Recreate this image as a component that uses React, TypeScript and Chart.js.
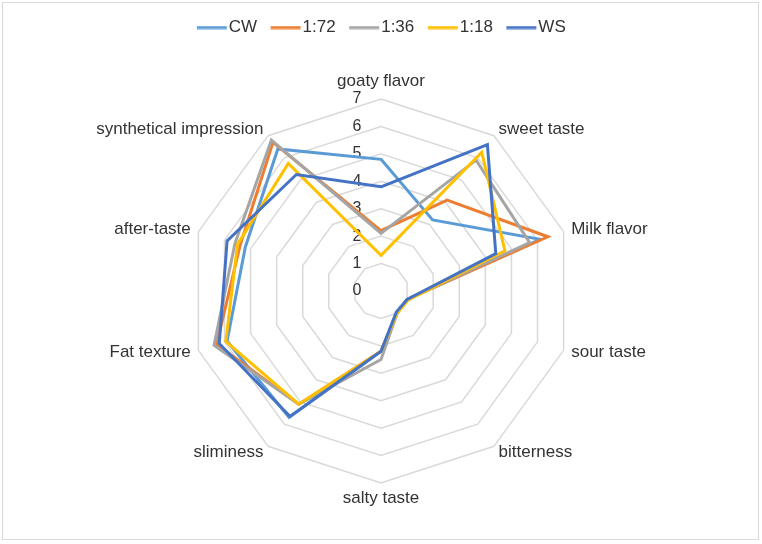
import React, { useEffect, useRef } from 'react';
import { Chart, registerables } from 'chart.js';

Chart.register(...registerables);

const categories = [
  'goaty flavor',
  'sweet taste',
  'Milk flavor',
  'sour taste',
  'bitterness',
  'salty taste',
  'sliminess',
  'Fat texture',
  'after-taste',
  'synthetical impression',
];

const cw = [4.8, 3.2, 6.1, 1.0, 1.0, 2.2, 5.7, 5.9, 5.2, 6.4];
const r72 = [2.2, 4.1, 6.4, 1.0, 1.0, 2.2, 5.1, 6.3, 5.4, 6.7];
const r36 = [2.1, 5.9, 5.7, 1.0, 1.0, 2.5, 5.1, 6.4, 5.6, 6.8];
const r18 = [1.3, 6.25, 4.75, 1.05, 1.0, 2.2, 5.1, 5.95, 5.5, 5.75];
const ws = [3.8, 6.6, 4.4, 1.0, 0.95, 2.2, 5.65, 6.2, 5.9, 5.25];

const tickValues = [0, 1, 2, 3, 4, 5, 6, 7];

const FONT = '"Liberation Sans", Arial, sans-serif';
const TEXT = '#333333';

// legend marker: a 30px line that sits right up against its text
function lineMarker(color: string) {
  const c = document.createElement('canvas');
  c.width = 41;
  c.height = 4;
  const g = c.getContext('2d');
  if (g) {
    g.fillStyle = color;
    g.fillRect(9, 0.5, 30, 3);
  }
  return c;
}

// Excel puts the value labels left of the vertical axis, drawn under the lines
const tickLabelPlugin = {
  id: 'tickLabels',
  beforeDatasetsDraw(chart: any) {
    const scale = chart.scales.r;
    const ctx = chart.ctx;
    ctx.save();
    ctx.font = `16px ${FONT}`;
    ctx.fillStyle = TEXT;
    ctx.textAlign = 'center';
    ctx.textBaseline = 'middle';
    tickValues.forEach(v => {
      const d = scale.getDistanceFromCenterForValue(v);
      ctx.fillText(String(v), scale.xCenter - 24, scale.yCenter - d);
    });
    ctx.restore();
  },
};

// category labels around the web, placed like Excel does
const categoryLabelPlugin = {
  id: 'categoryLabels',
  afterDatasetsDraw(chart: any) {
    const scale = chart.scales.r;
    const ctx = chart.ctx;
    ctx.save();
    ctx.font = `17px ${FONT}`;
    ctx.fillStyle = TEXT;
    ctx.textBaseline = 'middle';
    categories.forEach((label, i) => {
      const side = scale.getPointPosition(i, scale.drawingArea + 8);
      const dx = side.x - scale.xCenter;
      if (Math.abs(dx) < 1) {
        const above = side.y < scale.yCenter;
        const p = scale.getPointPosition(i, scale.drawingArea + (above ? 18 : 15));
        ctx.textAlign = 'center';
        ctx.fillText(label, p.x, p.y);
      } else {
        ctx.textAlign = dx > 0 ? 'left' : 'right';
        ctx.fillText(label, side.x, side.y);
      }
    });
    ctx.restore();
  },
};

// extra room between legend and plot
const legendGap = {
  id: 'legendGap',
  beforeInit(chart: any) {
    const legend = chart.legend;
    if (!legend) return;
    const origFit = legend.fit;
    legend.fit = function () {
      origFit.call(this);
      this.height += 53;
    };
  },
};

const RadarChart: React.FC = () => {
  const chartRef = useRef<HTMLCanvasElement>(null);
  const chartInstance = useRef<Chart | null>(null);

  useEffect(() => {
    if (!chartRef.current) return;
    if (chartInstance.current) chartInstance.current.destroy();
    const ctx = chartRef.current.getContext('2d');
    if (!ctx) return;

    const series = [
      { label: 'CW', data: cw, color: '#5B9BD5' },
      { label: '1:72', data: r72, color: '#ED7D31' },
      { label: '1:36', data: r36, color: '#A5A5A5' },
      { label: '1:18', data: r18, color: '#FFC000' },
      { label: 'WS', data: ws, color: '#4472C4' },
    ];

    chartInstance.current = new Chart(ctx, {
      type: 'radar',
      data: {
        labels: categories,
        datasets: series.map((s, i) => ({
          label: s.label,
          data: s.data,
          borderColor: s.color,
          backgroundColor: s.color,
          borderWidth: 3,
          pointRadius: 0,
          pointStyle: lineMarker(s.color),
          fill: false,
          order: series.length - i, // last series on top
        })),
      },
      options: {
        responsive: true,
        maintainAspectRatio: false,
        animation: false,
        layout: {
          padding: { left: 20, right: 20, top: 6, bottom: 60 },
        },
        plugins: {
          legend: {
            position: 'top',
            labels: {
              usePointStyle: true,
              pointStyleWidth: 24,
              padding: 13,
              color: TEXT,
              font: { family: FONT, size: 17 },
              sort: (a: any, b: any) => a.datasetIndex - b.datasetIndex,
            },
          },
          tooltip: { enabled: false },
        },
        scales: {
          r: {
            min: 0,
            max: 7,
            ticks: { stepSize: 1, display: false },
            angleLines: { display: false },
            grid: { color: '#d9d9d9', lineWidth: 1.5 },
            pointLabels: { display: false },
          },
        },
      },
      plugins: [tickLabelPlugin, categoryLabelPlugin, legendGap],
    });

    return () => {
      if (chartInstance.current) {
        chartInstance.current.destroy();
        chartInstance.current = null;
      }
    };
  }, []);

  return (
    <div style={{ position: 'absolute', left: 0, top: 0, width: 762, height: 544, background: '#fff' }}>
      <div
        style={{
          position: 'absolute',
          left: 2,
          top: 2,
          width: 757,
          height: 538,
          border: '1px solid #d9d9d9',
          boxSizing: 'border-box',
        }}
      />
      <canvas ref={chartRef}></canvas>
    </div>
  );
};

export default function App() {
  return <RadarChart />;
}
